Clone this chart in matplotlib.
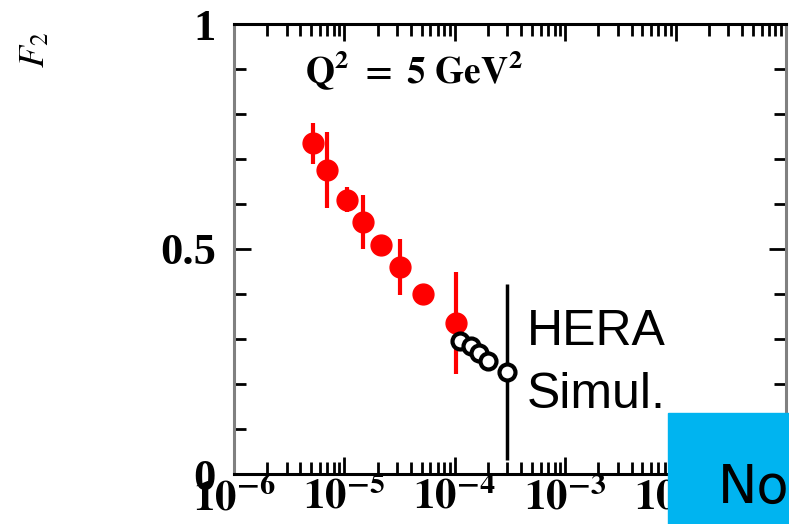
import matplotlib
matplotlib.use("Agg")
import matplotlib.pyplot as plt
from matplotlib.ticker import LogLocator, MultipleLocator, NullFormatter, FixedLocator
from matplotlib.patches import Rectangle

# measured data (red points)
red_x = [5.2e-6, 7.0e-6, 1.06e-5, 1.48e-5, 2.15e-5, 3.2e-5, 5.1e-5, 1.02e-4]
red_y = [0.735, 0.675, 0.61, 0.56, 0.51, 0.46, 0.40, 0.335]
red_err = [0.045, 0.085, 0.028, 0.06, 0.015, 0.062, 0.01, 0.113]

# HERA simulation (open circles)
hera_x = [1.12e-4, 1.4e-4, 1.65e-4, 2.0e-4, 2.95e-4]
hera_y = [0.295, 0.285, 0.27, 0.252, 0.227]
hera_err = [0.0, 0.0, 0.0, 0.0, 0.195]

xdecades = [1e-6, 1e-5, 1e-4, 1e-3, 1e-2, 1e-1]
xlabels = [r'$\mathbf{10^{-6}}$', r'$\mathbf{10^{-5}}$', r'$\mathbf{10^{-4}}$',
           r'$\mathbf{10^{-3}}$', r'$\mathbf{10^{-2}}$', r'$\mathbf{10^{-1}}$']
yticks = [0, 0.5, 1]
ylabels = ['0', '0.5', '1']

plt.rcParams['mathtext.fontset'] = 'stix'
plt.rcParams['font.family'] = ['Liberation Serif', 'DejaVu Serif']

fig = plt.figure(figsize=(7.89, 5.24), dpi=100)
ax = fig.add_axes([234/789, 50/524, 552/789, 450/524])

ax.errorbar(red_x, red_y, yerr=red_err, fmt='o', color='red', ms=15,
            elinewidth=3, capsize=0, zorder=3)
ax.errorbar(hera_x, hera_y, yerr=hera_err, fmt='o', color='black', mfc='white',
            mec='black', ms=11.5, mew=3, elinewidth=2.5, capsize=0, zorder=4)

ax.set_xscale('log')
ax.set_xlim(1e-6, 1e-1)
ax.set_ylim(0, 1)

ax.xaxis.set_major_locator(FixedLocator(xdecades))
ax.set_xticklabels(xlabels, fontsize=31)
ax.xaxis.set_minor_locator(LogLocator(base=10, subs=range(2, 10), numticks=20))
ax.xaxis.set_minor_formatter(NullFormatter())
ax.set_yticks(yticks)
ax.set_yticklabels(ylabels, fontsize=32, fontweight='bold')
ax.yaxis.set_minor_locator(MultipleLocator(0.1))

ax.tick_params(which='both', direction='in', top=True, right=True, width=2)
ax.tick_params(which='major', length=12)
ax.tick_params(which='minor', length=8.5)
ax.tick_params(axis='x', which='major', pad=3)
ax.tick_params(axis='y', which='major', pad=13)

for s in ['top', 'bottom']:
    ax.spines[s].set_linewidth(2.2)
    ax.spines[s].set_color('black')
for s in ['left', 'right']:
    ax.spines[s].set_linewidth(2.2)
    ax.spines[s].set_color('#808080')

ax.text(0.129, 0.869, r'$\mathbf{Q^2\ =\ 5\ GeV^2}$', transform=ax.transAxes,
        fontsize=27, ha='left', va='baseline')
ax.text(0.531, 0.287, 'HERA', transform=ax.transAxes, fontsize=36,
        family='Liberation Sans', ha='left', va='baseline')
ax.text(0.531, 0.147, 'Simul.', transform=ax.transAxes, fontsize=36,
        family='Liberation Sans', ha='left', va='baseline')

fig.text(36/789, 1 - 50/524, r'$F_2$', rotation=90, fontsize=26,
         ha='center', va='center')

# blue overlay box in the corner
box = Rectangle((668/789, 0), (789 - 668)/789, (524 - 413)/524,
                transform=fig.transFigure, color='#00b4f0', zorder=10)
fig.add_artist(box)
fig.text(718/789, 1 - 503/524, 'No', fontsize=38, family='DejaVu Sans',
         color='black', ha='left', va='baseline', zorder=11)

plt.savefig('out.png', dpi=100)
plt.close(fig)
